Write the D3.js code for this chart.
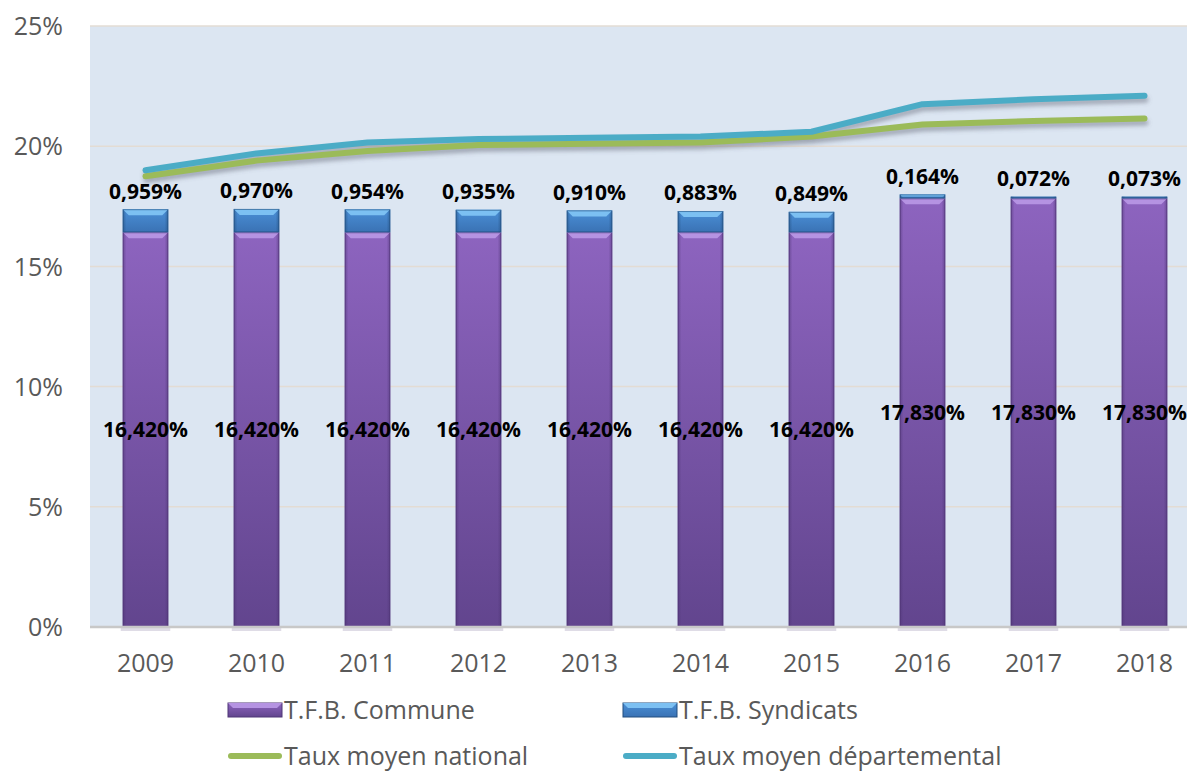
<!DOCTYPE html>
<html>
<head>
<meta charset="utf-8">
<script src="https://cdn.jsdelivr.net/npm/d3@7"></script>
<style>
  html, body { margin: 0; padding: 0; background: #ffffff; }
  svg { display: block; font-family: "Open Sans", "DejaVu Sans", sans-serif; }
</style>
</head>
<body>
<svg id="chart" width="1187" height="774"></svg>
<script>
// Taux de taxe foncière sur le bâti (T.F.B.), 2009–2018
const years = ["2009", "2010", "2011", "2012", "2013", "2014", "2015", "2016", "2017", "2018"];
const commune = [16.42, 16.42, 16.42, 16.42, 16.42, 16.42, 16.42, 17.83, 17.83, 17.83];
const syndicats = [0.959, 0.970, 0.954, 0.935, 0.910, 0.883, 0.849, 0.164, 0.072, 0.073];
const tauxNational = [18.75, 19.4, 19.8, 20.05, 20.1, 20.15, 20.4, 20.9, 21.05, 21.15];
const tauxDepartemental = [19.0, 19.7, 20.15, 20.3, 20.35, 20.4, 20.6, 21.75, 21.95, 22.1];
const yTicks = [0, 5, 10, 15, 20, 25];
const legendLabels = ["T.F.B. Commune", "T.F.B. Syndicats", "Taux moyen national", "Taux moyen départemental"];

const svg = d3.select("#chart");
const plot = { left: 90, right: 1200, top: 26, bottom: 627 };

const x = d3.scaleBand().domain(years).range([plot.left, plot.right])
  .paddingInner(0.59).paddingOuter(0.295);
const y = d3.scaleLinear().domain([0, 25]).range([plot.bottom, plot.top]);
const cx = d => x(d) + x.bandwidth() / 2;
const fmt = v => d3.format(".3f")(v).replace(".", ",") + "%";

const defs = svg.append("defs");

// Palettes for the bevelled bar segments
const palettes = {
  commune: { top: "#8d64bf", bottom: "#62458e", bevel: "#b593e2", edge: "#4f3676" },
  syndicats: { top: "#4a8fd6", bottom: "#3a72b4", bevel: "#7cc0f2", edge: "#234e7e" }
};
Object.entries(palettes).forEach(([key, p]) => {
  const g = defs.append("linearGradient").attr("id", "grad-" + key)
    .attr("x1", 0).attr("y1", 0).attr("x2", 0).attr("y2", 1);
  g.append("stop").attr("offset", "0%").attr("stop-color", p.top);
  g.append("stop").attr("offset", "100%").attr("stop-color", p.bottom);
  const h = defs.append("linearGradient").attr("id", "side-" + key)
    .attr("x1", 0).attr("y1", 0).attr("x2", 1).attr("y2", 0);
  h.append("stop").attr("offset", "0%").attr("stop-color", p.edge).attr("stop-opacity", 0.55);
  h.append("stop").attr("offset", "8%").attr("stop-color", p.edge).attr("stop-opacity", 0);
  h.append("stop").attr("offset", "92%").attr("stop-color", p.edge).attr("stop-opacity", 0);
  h.append("stop").attr("offset", "100%").attr("stop-color", p.edge).attr("stop-opacity", 0.55);
});

// Blurred shadow drawn beneath the lines
const sh = defs.append("filter").attr("id", "shadow")
  .attr("x", "-10%").attr("y", "-50%").attr("width", "120%").attr("height", "250%");
sh.append("feGaussianBlur").attr("in", "SourceGraphic").attr("stdDeviation", 2.2);

// Plot background
svg.append("rect")
  .attr("x", plot.left).attr("y", plot.top)
  .attr("width", plot.right - plot.left).attr("height", plot.bottom - plot.top)
  .attr("fill", "#dce6f2");

// Horizontal gridlines
svg.append("g").selectAll("line").data(yTicks.filter(t => t > 0)).join("line")
  .attr("x1", plot.left).attr("x2", plot.right)
  .attr("y1", d => y(d)).attr("y2", d => y(d))
  .attr("stroke", "#e3dcd4").attr("stroke-width", 1.5);

// Y axis labels
const yAxis = d3.axisLeft(y).tickValues(yTicks).tickFormat(d => d + "%").tickSize(0).tickPadding(0);
svg.append("g").attr("transform", "translate(63,0)").call(yAxis)
  .call(g => g.select(".domain").remove())
  .selectAll("text")
  .attr("font-family", "'Open Sans', sans-serif")
  .attr("font-size", 25).attr("fill", "#595959").attr("dy", "0.35em");

// X axis labels
const xAxis = d3.axisBottom(x).tickSize(0).tickPadding(0);
svg.append("g").attr("transform", "translate(0,652)").call(xAxis)
  .call(g => g.select(".domain").remove())
  .selectAll("text")
  .attr("font-family", "'Open Sans', sans-serif")
  .attr("font-size", 25).attr("fill", "#595959").attr("dy", "0.78em");

// Stacked bars
const stacked = years.map((yr, i) => ({
  year: yr,
  segs: [
    { key: "commune", y0: 0, y1: commune[i] },
    { key: "syndicats", y0: commune[i], y1: commune[i] + syndicats[i] }
  ]
}));

function bevelSeg(g, xPos, w, top, bottom, key) {
  const p = palettes[key];
  const h = bottom - top;
  g.append("rect").attr("x", xPos).attr("y", top).attr("width", w).attr("height", h)
    .attr("fill", `url(#grad-${key})`);
  g.append("rect").attr("x", xPos).attr("y", top).attr("width", w).attr("height", h)
    .attr("fill", `url(#side-${key})`);
  const b = Math.min(6, h / 2);
  if (b > 1) {
    g.append("path")
      .attr("d", `M${xPos},${top}H${xPos + w}L${xPos + w - b},${top + b}H${xPos + b}Z`)
      .attr("fill", p.bevel);
  }
  g.append("rect").attr("x", xPos + 0.5).attr("y", top + 0.5)
    .attr("width", w - 1).attr("height", Math.max(0, h - 1))
    .attr("fill", "none").attr("stroke", p.edge).attr("stroke-opacity", 0.6).attr("stroke-width", 1);
}

const barsG = svg.append("g");
stacked.forEach(d => {
  const g = barsG.append("g");
  d.segs.forEach(s => bevelSeg(g, x(d.year), x.bandwidth(), y(s.y1), y(s.y0), s.key));
});

// Baseline with a faint shadow under each bar
svg.append("g").selectAll("rect").data(years).join("rect")
  .attr("x", d => x(d) - 2).attr("y", plot.bottom + 1)
  .attr("width", x.bandwidth() + 4).attr("height", 3)
  .attr("fill", "#c9c4d6").attr("opacity", 0.6);
svg.append("line")
  .attr("x1", plot.left).attr("x2", plot.right)
  .attr("y1", plot.bottom).attr("y2", plot.bottom)
  .attr("stroke", "#c8c8c8").attr("stroke-width", 2.5);

// Lines: shadows first, then the coloured strokes on top
const line = d3.line().x((d, i) => cx(years[i])).y(d => y(d));
const series = [
  { values: tauxNational, color: "#9bbb59" },
  { values: tauxDepartemental, color: "#4bacc6" }
];
svg.append("g").attr("transform", "translate(1,4)").selectAll("path").data(series).join("path")
  .attr("d", d => line(d.values))
  .attr("fill", "none").attr("stroke", "#5a5f6e").attr("stroke-opacity", 0.45)
  .attr("stroke-width", 6).attr("stroke-linecap", "round").attr("stroke-linejoin", "round")
  .attr("filter", "url(#shadow)");
svg.append("g").selectAll("path").data(series).join("path")
  .attr("d", d => line(d.values))
  .attr("fill", "none").attr("stroke", d => d.color)
  .attr("stroke-width", 6).attr("stroke-linecap", "round").attr("stroke-linejoin", "round");

// Value labels
const lbl = svg.append("g")
  .attr("font-family", "'Open Sans', sans-serif").attr("font-weight", 700)
  .attr("font-size", 21).attr("fill", "#000").attr("text-anchor", "middle");
lbl.selectAll("text.c").data(years).join("text").attr("class", "c")
  .attr("x", d => cx(d)).attr("y", (d, i) => (y(0) + y(commune[i])) / 2)
  .attr("dy", "0.35em").text((d, i) => fmt(commune[i]));
lbl.selectAll("text.s").data(years).join("text").attr("class", "s")
  .attr("x", d => cx(d)).attr("y", (d, i) => y(commune[i] + syndicats[i]) - 18)
  .attr("dy", "0.35em").text((d, i) => fmt(syndicats[i]));

// Legend
const leg = svg.append("g")
  .attr("font-family", "'Open Sans', sans-serif").attr("font-size", 25).attr("fill", "#595959");
const legItems = [
  { x: 228, y: 710, type: "bar", key: "commune" },
  { x: 623, y: 710, type: "bar", key: "syndicats" },
  { x: 228, y: 756, type: "line", color: "#9bbb59" },
  { x: 623, y: 756, type: "line", color: "#4bacc6" }
];
legItems.forEach((it, i) => {
  const g = leg.append("g");
  if (it.type === "bar") {
    const p = palettes[it.key];
    g.append("rect").attr("x", it.x).attr("y", it.y - 7).attr("width", 54).attr("height", 14)
      .attr("fill", `url(#grad-${it.key})`).attr("stroke", p.edge).attr("stroke-width", 1);
    g.append("path")
      .attr("d", `M${it.x},${it.y - 7}H${it.x + 54}L${it.x + 49},${it.y - 2}H${it.x + 5}Z`)
      .attr("fill", p.bevel);
  } else {
    g.append("line").attr("x1", it.x + 3).attr("x2", it.x + 51)
      .attr("y1", it.y).attr("y2", it.y)
      .attr("stroke", it.color).attr("stroke-width", 6).attr("stroke-linecap", "round");
  }
  g.append("text").attr("x", it.x + 56).attr("y", it.y).attr("dy", "0.35em").text(legendLabels[i]);
});
</script>
</body>
</html>
